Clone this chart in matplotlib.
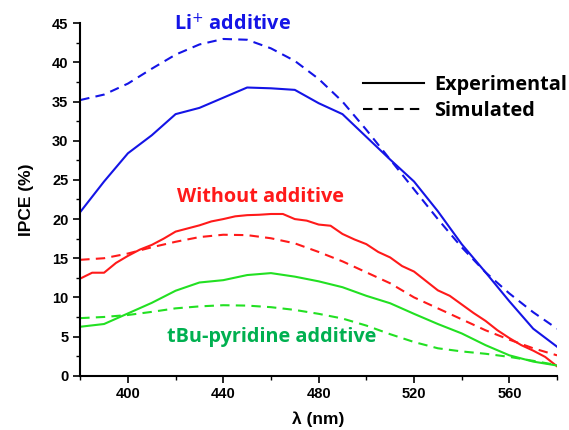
import matplotlib
matplotlib.use("Agg")
import matplotlib.pyplot as plt
from matplotlib.lines import Line2D
from matplotlib.ticker import MultipleLocator

wl10 = list(range(380, 581, 10))
wl5 = list(range(380, 581, 5))

li_exp = [20.9, 24.8, 28.4, 30.7, 33.4, 34.2, 35.5, 36.8, 36.7, 36.5, 34.8,
          33.4, 30.5, 27.6, 24.8, 21.0, 16.8, 13.2, 9.5, 6.0, 3.7]
li_sim = [35.2, 35.9, 37.3, 39.2, 41.0, 42.3, 43.0, 42.9, 41.8, 40.2, 37.9,
          35.0, 31.4, 27.6, 23.8, 20.0, 16.4, 13.2, 10.5, 8.1, 6.0]
wo_exp = [12.4, 13.15, 13.15, 14.4, 15.3, 16.1, 16.7, 17.5, 18.4, 18.8, 19.2,
          19.7, 20.0, 20.35, 20.5, 20.55, 20.65, 20.65, 20.0, 19.8, 19.3,
          19.15, 18.1, 17.4, 16.8, 15.8, 15.1, 14.0, 13.3, 12.1, 10.9, 10.2,
          9.1, 8.0, 7.0, 5.8, 4.8, 3.9, 3.2, 2.4, 1.2]
wo_sim = [14.8, 15.0, 15.6, 16.4, 17.1, 17.7, 18.0, 17.95, 17.55, 16.9, 15.8,
          14.6, 13.2, 11.8, 10.0, 8.6, 7.2, 5.8, 4.6, 3.5, 2.6]
tbu_exp = [6.25, 6.6, 7.95, 9.3, 10.85, 11.9, 12.2, 12.85, 13.1, 12.65, 12.05,
           11.3, 10.2, 9.25, 7.9, 6.6, 5.4, 3.9, 2.6, 1.8, 1.3]
tbu_sim = [7.35, 7.5, 7.75, 8.15, 8.6, 8.85, 9.0, 8.95, 8.75, 8.4, 7.9,
           7.3, 6.4, 5.3, 4.3, 3.5, 3.1, 2.8, 2.4, 1.9, 1.35]

x_ticks = [400, 440, 480, 520, 560]
y_ticks = [0, 5, 10, 15, 20, 25, 30, 35, 40, 45]

BLUE = "#1414e6"
RED = "#ff1a1a"
GREEN = "#22e022"
GREEN_TXT = "#00b050"

fig = plt.figure(figsize=(5.69, 4.30), dpi=100)
ax = fig.add_axes([0.141, 0.1263, 0.838, 0.8195])

lw = 1.5
dash = (4.5, 3)
ax.plot(wl10, li_exp, color=BLUE, lw=lw)
ax.plot(wl10, li_sim, color=BLUE, lw=lw, dashes=dash)
ax.plot(wl5, wo_exp, color=RED, lw=lw)
ax.plot(wl10, wo_sim, color=RED, lw=lw, dashes=dash)
ax.plot(wl10, tbu_exp, color=GREEN, lw=lw)
ax.plot(wl10, tbu_sim, color=GREEN, lw=lw, dashes=dash)

ax.set_xlim(380, 580)
ax.set_ylim(0, 45)
ax.set_xticks(x_ticks)
ax.set_yticks(y_ticks)
ax.xaxis.set_minor_locator(MultipleLocator(20))
ax.yaxis.set_minor_locator(MultipleLocator(2.5))
for s in ["top", "right"]:
    ax.spines[s].set_visible(False)
for s in ["left", "bottom"]:
    ax.spines[s].set_linewidth(1.5)
ax.tick_params(which="major", length=5, width=1.2, direction="out", labelsize=10.5)
ax.tick_params(which="minor", length=3, width=1.0, direction="out")
for lab in ax.get_xticklabels() + ax.get_yticklabels():
    lab.set_fontweight("bold")
    lab.set_family("Liberation Sans")

ax.set_xlabel("λ (nm)", fontsize=12.5, fontweight="bold", family="Liberation Sans", labelpad=7)
ax.set_ylabel("IPCE (%)", fontsize=12.5, fontweight="bold", family="Liberation Sans", labelpad=13)

tf = dict(family="Open Sans", fontweight="bold", fontsize=14.3, ha="center", va="center")
ax.text(444, 44.8, "Li$^{+}$ additive", color=BLUE, **tf)
ax.text(455.7, 22.8, "Without additive", color=RED, **tf)
ax.text(460.3, 4.9, "tBu-pyridine additive", color=GREEN_TXT, **tf)

handles = [Line2D([], [], color="black", lw=1.5),
           Line2D([], [], color="black", lw=1.5, dashes=dash)]
ax.legend(handles, ["Experimental", "Simulated"], loc="upper left",
          bbox_to_anchor=(0.5765, 0.877), borderaxespad=0, frameon=False,
          handlelength=3.07, handletextpad=0.5, labelspacing=0.33,
          prop=dict(family="Open Sans", weight="bold", size=14.3))

fig.savefig("out.png", dpi=100)
